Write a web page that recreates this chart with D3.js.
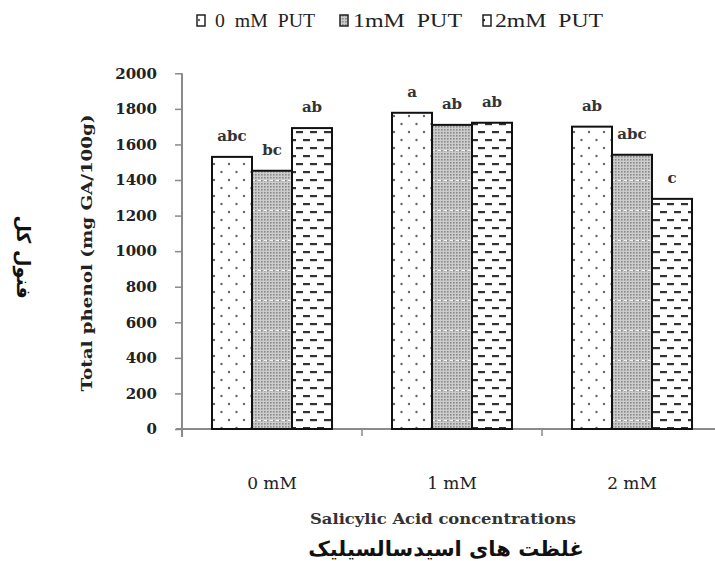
<!DOCTYPE html>
<html><head><meta charset="utf-8">
<script src="https://cdn.jsdelivr.net/npm/d3@7"></script>
<style>body{margin:0;background:#fff}svg{display:block}</style>
</head><body>
<script>
const categories = ["0 mM", "1 mM", "2 mM"];
const seriesNames = ["0 mM PUT", "1 mM PUT", "2 mM PUT"];
const legendLabels = ["0  mM  PUT", "1mM  PUT", "2mM  PUT"];
const values0 = [1530, 1778, 1700];
const values1 = [1452, 1710, 1542];
const values2 = [1692, 1722, 1294];
const letters0 = ["abc", "a", "ab"];
const letters1 = ["bc", "ab", "abc"];
const letters2 = ["ab", "ab", "c"];
const yTicks = [0, 200, 400, 600, 800, 1000, 1200, 1400, 1600, 1800, 2000];
const yTitle = "Total phenol (mg GA/100g)";
const yTitleFa = "فنول کل";
const xTitle = "Salicylic Acid concentrations";
const xTitleFa = "غلظت های اسیدسالسیلیک";

const W = 715, H = 561;
const svg = d3.select("body").append("svg").attr("width", W).attr("height", H);
const defs = svg.append("defs");

// patterns
const p0 = defs.append("pattern").attr("id", "pat0").attr("patternUnits", "userSpaceOnUse")
  .attr("width", 15).attr("height", 16);
p0.append("rect").attr("width", 15).attr("height", 16).attr("fill", "#fff");
p0.append("circle").attr("cx", 4).attr("cy", 4).attr("r", 1.2).attr("fill", "#666");
p0.append("circle").attr("cx", 11.5).attr("cy", 12).attr("r", 1.2).attr("fill", "#666");

const p1 = defs.append("pattern").attr("id", "pat1").attr("patternUnits", "userSpaceOnUse")
  .attr("width", 6).attr("height", 30);
p1.append("rect").attr("width", 6).attr("height", 30).attr("fill", "#cccccc");
for (let i = 0; i < 2; i++) for (let j = 0; j < 10; j++) {
  p1.append("rect").attr("x", i * 3).attr("y", j * 3).attr("width", 1.6).attr("height", 1.6).attr("fill", "#8a8a8a");
}
p1.append("rect").attr("x", 0).attr("y", 0).attr("width", 3).attr("height", 1).attr("fill", "#f4f4f4");

const p2 = defs.append("pattern").attr("id", "pat2").attr("patternUnits", "userSpaceOnUse")
  .attr("width", 14).attr("height", 16);
p2.append("rect").attr("width", 14).attr("height", 16).attr("fill", "#fff");
p2.append("rect").attr("x", 2).attr("y", 3).attr("width", 7).attr("height", 2.2).attr("fill", "#333");
p2.append("rect").attr("x", 9).attr("y", 11).attr("width", 7).attr("height", 2.2).attr("fill", "#333");
p2.append("rect").attr("x", -5).attr("y", 11).attr("width", 7).attr("height", 2.2).attr("fill", "#333");
const fills = ["url(#pat0)", "url(#pat1)", "url(#pat2)"];

const x0 = 182, x1r = 722, yTop = 73.3, yBot = 429;
const x = d3.scaleBand().domain(categories).range([x0, x1r]).paddingInner(0).paddingOuter(0);
const xs = d3.scaleBand().domain(seriesNames).range([0, 120]);
const groupOff = (x.bandwidth() - 120) / 2;
const y = d3.scaleLinear().domain([0, 2000]).range([yBot, yTop]);

const allValues = [values0, values1, values2];
const allLetters = [letters0, letters1, letters2];
const axisColor = "#8a8a8a";

// Y axis
const yAxis = svg.append("g").attr("transform", `translate(${x0},0)`)
  .call(d3.axisLeft(y).tickValues(yTicks).tickSize(7).tickPadding(18).tickFormat(d3.format("d")));
yAxis.select(".domain").attr("d", `M0,${yTop}V${yBot + 8}`).attr("stroke", axisColor).attr("stroke-width", 2);
yAxis.selectAll(".tick line").attr("stroke", axisColor).attr("stroke-width", 1.5);
yAxis.selectAll(".tick text").attr("font-family", "DejaVu Serif").attr("font-weight", "bold")
  .attr("font-size", 15).attr("fill", "#222");

// X axis
const xAxis = svg.append("g").attr("transform", `translate(0,${yBot})`)
  .call(d3.axisBottom(x).tickSize(0).tickPadding(45).tickSizeOuter(0));
xAxis.select(".domain").attr("d", `M${x0 - 6},0H${x1r}`).attr("stroke", axisColor).attr("stroke-width", 2);
xAxis.selectAll(".tick text").attr("font-family", "DejaVu Serif").attr("font-size", 17)
  .attr("fill", "#222").attr("dy", "0").attr("y", 60);
xAxis.selectAll("line.bound").data(categories.slice(1)).enter().append("line")
  .attr("class", "bound").attr("x1", d => x(d)).attr("x2", d => x(d))
  .attr("y1", 0).attr("y2", 7).attr("stroke", axisColor).attr("stroke-width", 1.5);

// Bars
allValues.forEach((vals, si) => {
  const g = svg.append("g");
  g.selectAll("rect").data(categories).enter().append("rect")
    .attr("x", (c) => x(c) + groupOff + xs(seriesNames[si]))
    .attr("width", xs.bandwidth())
    .attr("y", (c, i) => y(vals[i]))
    .attr("height", (c, i) => yBot - y(vals[i]))
    .attr("fill", fills[si]).attr("stroke", "#111").attr("stroke-width", 2);
  g.selectAll("text").data(categories).enter().append("text")
    .attr("x", (c) => x(c) + groupOff + xs(seriesNames[si]) + xs.bandwidth() / 2)
    .attr("y", (c, i) => y(vals[i]) - 16)
    .attr("text-anchor", "middle")
    .attr("font-family", "DejaVu Serif").attr("font-weight", "bold").attr("font-size", 15)
    .attr("fill", "#333")
    .text((c, i) => allLetters[si][i]);
});

// Legend
const legX = [197, 340, 483];
const legTextX = [215, 353, 495];
const legTextEnd = [315, 462, 603];
seriesNames.forEach((s, i) => {
  svg.append("rect").attr("x", legX[i]).attr("y", 15).attr("width", 8).attr("height", 11)
    .attr("fill", fills[i]).attr("stroke", "#222").attr("stroke-width", 1.5);
  svg.append("text").attr("x", legTextX[i]).attr("y", 27)
    .attr("font-family", "Liberation Serif").attr("font-size", 18).attr("fill", "#222")
    .attr("textLength", legTextEnd[i] - legTextX[i]).attr("lengthAdjust", "spacingAndGlyphs")
    .style("white-space", "pre")
    .text(legendLabels[i]);
});

// Y titles
svg.append("text").attr("transform", `translate(92,253) rotate(-90)`)
  .attr("text-anchor", "middle").attr("font-family", "DejaVu Serif").attr("font-weight", "bold")
  .attr("font-size", 14).attr("fill", "#222")
  .attr("textLength", 277).attr("lengthAdjust", "spacingAndGlyphs").text(yTitle);
svg.append("text").attr("transform", `translate(17,257) rotate(90)`)
  .attr("text-anchor", "middle").attr("font-family", "DejaVu Sans").attr("font-weight", "bold")
  .attr("font-size", 19).attr("fill", "#111").text(yTitleFa);

// X titles
svg.append("text").attr("x", 443).attr("y", 524).attr("text-anchor", "middle")
  .attr("font-family", "DejaVu Serif").attr("font-weight", "bold").attr("font-size", 14)
  .attr("fill", "#333").attr("textLength", 266).attr("lengthAdjust", "spacingAndGlyphs").text(xTitle);
svg.append("text").attr("x", 446).attr("y", 556).attr("text-anchor", "middle")
  .attr("font-family", "DejaVu Sans").attr("font-weight", "bold").attr("font-size", 21)
  .attr("fill", "#111").text(xTitleFa);
</script>
</body></html>
